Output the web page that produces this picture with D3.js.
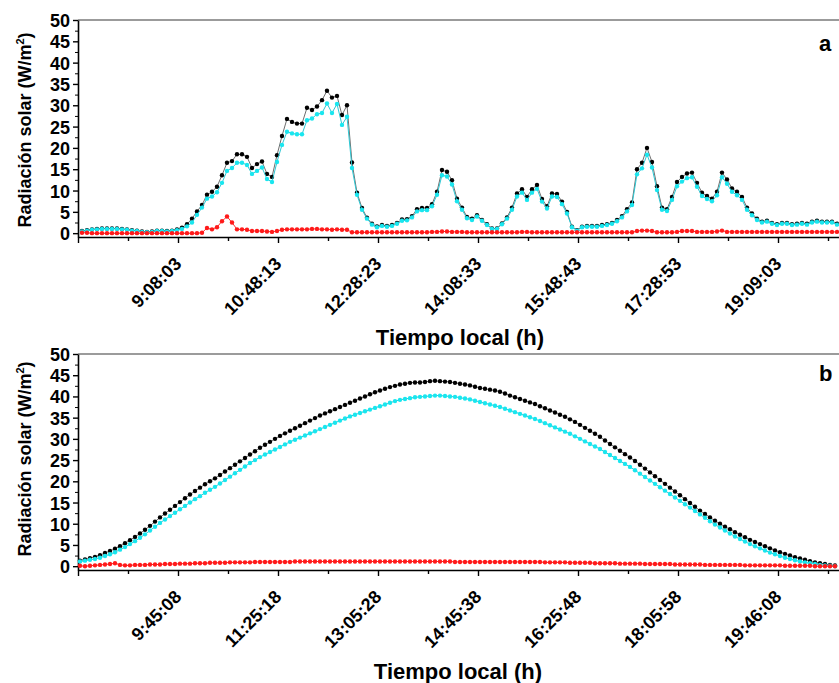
<!DOCTYPE html>
<html>
<head>
<meta charset="utf-8">
<script src="https://cdn.jsdelivr.net/npm/d3@7"></script>
<style>
  body { margin: 0; background: #fff; }
  svg text { font-family: "Liberation Sans", Arial, sans-serif; font-weight: bold; fill: #000; }
</style>
</head>
<body>
<svg id="chart" width="839" height="683"></svg>
<script>
// tick labels (local time)
const ticksA = ["9:08:03", "10:48:13", "12:28:23", "14:08:33", "15:48:43", "17:28:53", "19:09:03"];
const ticksB = ["9:45:08", "11:25:18", "13:05:28", "14:45:38", "16:25:48", "18:05:58", "19:46:08"];

// first sample and sampling step
const startA = "7:31:53";
const startB = "8:06:58";
const stepSeconds = 300.5;

// panel a (black, cyan, red)
const globalA = [0.5,0.7,0.9,1.0,1.1,1.1,1.1,1.1,1.0,0.9,0.7,0.6,0.4,0.3,0.4,0.6,0.6,0.5,0.6,0.9,1.3,2.1,3.4,
  5.1,6.6,9.0,9.7,10.9,13.6,16.5,16.9,18.5,18.5,17.9,15.3,16.2,16.8,13.9,13.2,18.3,22.8,26.8,26.1,25.7,25.7,29.4,28.9,29.7,31.2,33.4,31.8,32.2,27.7,30.0,16.6,9.5,5.9,3.6,2.2,
  1.6,1.9,1.7,1.9,2.4,3.2,3.3,4.0,5.6,5.9,5.9,6.8,9.7,14.8,14.4,12.4,8.1,6.0,3.8,3.4,4.2,3.1,2.1,1.1,1.1,2.3,3.7,6.0,9.3,10.3,8.5,10.3,11.3,8.0,6.3,9.3,9.2,7.4,5.0,1.5,0.7,
  1.5,1.7,1.7,1.7,1.9,2.1,2.4,3.1,4.0,5.6,7.2,15.0,16.5,20.0,16.7,11.0,6.0,5.6,8.5,12.0,13.2,14.0,14.2,11.8,9.5,8.7,8.1,9.7,14.2,12.6,10.5,9.7,8.5,6.0,4.6,3.4,2.7,2.9,2.4,2.1,2.4,2.4,2.1,2.2,2.4,2.2,2.7,2.9,2.7,2.7,2.7,2.2];
const directA = [0.4,0.6,0.8,0.9,1.0,1.0,1.0,1.0,0.9,0.8,0.6,0.5,0.3,0.2,0.3,0.5,0.5,0.4,0.5,0.7,1.0,1.6,2.5,
  4.3,6.0,8.1,8.6,9.6,11.8,14.6,15.3,16.5,16.5,16.0,13.9,14.6,15.4,12.7,12.0,16.7,20.7,23.8,23.4,23.2,23.2,26.5,26.9,27.9,28.2,30.4,28.2,30.3,25.4,27.3,15.3,9.0,5.5,3.4,2.0,
  1.4,1.7,1.5,1.7,2.2,2.9,3.0,3.7,5.1,5.4,5.4,6.3,9.0,13.6,13.3,11.4,7.5,5.5,3.5,3.1,3.9,2.9,1.9,1.0,1.0,2.1,3.4,5.5,8.6,9.5,7.8,9.5,10.4,7.4,5.8,8.6,8.5,6.8,4.6,1.4,0.6,
  1.4,1.5,1.5,1.5,1.7,1.9,2.2,2.8,3.7,5.1,6.6,13.8,15.2,18.4,15.4,10.1,5.5,5.2,7.8,11.0,12.1,12.9,13.1,10.9,8.7,8.0,7.5,8.9,13.1,11.6,9.7,8.9,7.8,5.5,4.2,3.1,2.5,2.7,2.2,1.9,2.2,2.2,1.9,2.0,2.2,2.0,2.5,2.7,2.5,2.5,2.5,2.0];
const diffuseA = [0.1,0.1,0.0,0.0,0.0,0.0,0.0,0.0,0.0,0.0,0.0,0.0,0.0,0.0,0.0,0.0,0.0,0.0,0.0,0.0,0.0,0.0,0.0,0.0,0.1,
  1.2,0.9,1.4,2.8,3.9,2.5,0.9,0.9,0.8,0.5,0.5,0.5,0.4,0.3,0.5,
  0.8,0.9,0.9,0.9,0.9,0.9,1.0,1.0,0.9,0.9,0.8,0.9,0.8,0.8,0.2,0.2,0.2,0.2,0.2,
  0.2,0.2,0.2,0.2,0.2,0.2,0.2,0.2,0.2,0.2,0.2,0.3,0.3,0.4,0.4,0.3,0.3,0.3,
  0.2,0.2,0.2,0.2,0.2,0.2,0.2,0.2,0.2,0.2,0.2,0.3,0.3,
  0.2,0.2,0.2,0.2,0.2,0.2,0.2,0.2,0.2,0.2,0.2,0.2,0.2,0.2,0.2,0.2,0.2,0.2,0.2,0.2,0.2,
  0.5,0.6,0.6,0.5,0.2,0.2,0.2,0.2,0.3,0.5,0.5,0.5,0.3,0.3,0.3,0.3,0.4,0.6,
  0.3,0.3,0.3,0.3,0.3,0.3,0.3,0.3,0.3,0.3,0.3,0.3,0.3,0.3,0.3,0.3,0.3,0.3,0.3,0.3,0.3,0.3,0.3];

// panel b (black, cyan, red)
const globalB = [1.3,1.6,1.9,2.2,2.6,3.1,3.6,4.1,4.7,5.4,
  6.1,6.9,7.7,8.6,9.5,10.5,11.5,12.4,13.3,14.2,
  15.1,16.0,16.9,17.7,18.5,19.3,20.0,20.7,21.5,22.3,
  23.1,23.9,24.7,25.5,26.3,27.1,27.9,28.6,29.3,30.0,
  30.7,31.3,31.9,32.5,33.1,33.7,34.3,34.9,35.5,36.0,
  36.5,37.0,37.5,38.0,38.5,39.0,39.5,40.0,40.5,41.0,
  41.4,41.8,42.2,42.5,42.8,43.0,43.2,43.3,43.3,43.4,
  43.6,43.7,43.6,43.5,43.4,43.2,43.0,42.8,42.6,42.3,
  42.0,41.8,41.6,41.4,41.1,40.7,40.2,39.8,39.4,39.0,
  38.6,38.2,37.7,37.2,36.7,36.2,35.7,35.2,34.6,34.0,
  33.3,32.6,31.9,31.2,30.5,29.6,28.8,28.0,27.2,26.4,
  25.6,24.8,23.9,23.0,22.1,21.2,20.3,19.4,18.5,17.6,
  16.7,15.8,14.9,14.0,13.1,12.3,11.5,10.7,
  10.0,9.3,8.7,8.0,7.4,6.8,6.2,5.7,5.2,4.7,4.2,3.7,3.3,2.9,2.5,2.1,1.8,1.5,1.2,0.9,0.7,0.5,0.3,0.2];
const directB = [1.1,1.3,1.5,1.7,2.0,2.4,2.8,3.3,3.9,4.5,
  5.2,5.9,6.7,7.5,8.4,9.3,10.2,11.0,11.8,12.6,
  13.4,14.2,15.0,15.8,16.5,17.3,18.0,18.7,19.5,20.3,
  21.1,21.9,22.7,23.5,24.3,25.0,25.7,26.3,26.9,27.5,
  28.1,28.7,29.3,29.8,30.3,30.8,31.3,31.8,32.3,32.8,
  33.3,33.8,34.3,34.8,35.3,35.7,36.1,36.5,36.9,37.3,
  37.7,38.1,38.5,38.9,39.2,39.4,39.6,39.8,39.9,40.0,
  40.1,40.2,40.2,40.1,40.0,39.9,39.7,39.5,39.3,39.0,
  38.7,38.4,38.1,37.8,37.5,37.1,36.7,36.3,35.9,35.5,
  35.1,34.7,34.2,33.7,33.2,32.7,32.2,31.7,31.2,30.6,
  30.0,29.4,28.8,28.2,27.6,26.9,26.2,25.5,24.8,24.1,
  23.4,22.6,21.8,21.0,20.2,19.4,18.6,17.8,17.0,16.2,
  15.4,14.6,13.8,13.0,12.2,11.4,10.6,9.8,9.1,8.4,
  7.7,7.0,6.4,5.8,5.2,4.7,4.2,3.7,3.2,2.8,
  2.4,2.0,1.7,1.4,1.1,0.9,0.7,0.5,0.3,0.2,0.1,0.0];
const diffuseB = [0.1,0.0,0.1,0.2,0.3,0.4,0.5,0.7,0.3,0.2,0.2,
  0.3,0.3,0.3,0.4,0.4,0.4,0.5,0.5,0.5,0.6,
  0.6,0.6,0.7,0.7,0.7,0.8,0.8,0.8,0.8,0.9,0.9,0.9,0.9,0.9,1.0,1.0,1.0,1.0,1.0,1.0,
  1.0,1.0,1.1,1.1,1.1,1.1,1.1,1.1,1.1,1.1,1.1,1.1,1.1,1.1,1.1,1.1,1.1,1.1,1.1,1.1,
  1.1,1.1,1.1,1.1,1.1,1.1,1.1,1.1,1.1,1.1,1.1,1.1,1.1,1.1,1.0,1.0,1.0,1.0,1.0,1.0,
  1.0,1.0,1.0,1.0,1.0,1.0,1.0,1.0,1.0,1.0,
  1.0,1.0,0.9,0.9,0.9,0.9,0.9,0.8,0.8,0.8,0.8,0.8,0.7,0.7,
  0.7,0.7,0.7,0.6,0.6,0.6,0.6,0.6,0.5,0.5,0.5,0.5,0.5,0.5,0.4,0.4,0.4,0.4,0.4,0.4,
  0.3,0.3,0.3,0.3,0.3,0.3,0.3,0.3,0.2,0.2,0.2,0.2,0.2,0.2,0.2,0.2,0.1,0.1,0.1,0.1,0.1,0.1,0.0,0.0,0.0,0.0,0.0];

const yTicks = [0, 5, 10, 15, 20, 25, 30, 35, 40, 45, 50];

const svg = d3.select("#chart");
const plotLeft = 78, plotRight = 845;

function toSec(s) {
  const [h, m, sec] = s.split(":").map(Number);
  return h * 3600 + m * 60 + sec;
}

function drawPanel(cfg) {
  const tickTimes = cfg.ticks.map(toSec);
  const major = tickTimes[1] - tickTimes[0];
  const t0 = tickTimes[0] - major;
  const tEnd = t0 + major * (plotRight - plotLeft) / 100;

  const x = d3.scaleLinear().domain([t0, tEnd]).range([plotLeft, plotRight]);
  const y = d3.scaleLinear().domain([-0.9, 50]).range([cfg.bottom, cfg.top]);

  // top frame line
  svg.append("line")
    .attr("x1", plotLeft).attr("x2", plotRight)
    .attr("y1", cfg.top).attr("y2", cfg.top)
    .attr("stroke", "#7a7a7a").attr("stroke-width", 1.5);

  // y axis
  const minorY = d3.range(2.5, 50, 5);
  svg.append("g")
    .attr("transform", `translate(${plotLeft},0)`)
    .call(d3.axisLeft(y).tickValues(minorY).tickSize(3).tickFormat("").tickSizeOuter(0))
    .call(g => g.select(".domain").remove());
  const ya = svg.append("g")
    .attr("transform", `translate(${plotLeft},0)`)
    .call(d3.axisLeft(y).tickValues(yTicks).tickSize(5).tickPadding(3).tickSizeOuter(0));
  ya.select(".domain").attr("stroke-width", 1.6);
  ya.selectAll("line").attr("stroke-width", 1.4);
  ya.selectAll("text").style("font-size", "18px").attr("dy", "0.36em");

  // x axis
  const allMajor = d3.range(t0, tEnd + 1, major);
  const allMinor = d3.range(t0 + major / 2, tEnd, major);
  svg.append("g")
    .attr("transform", `translate(0,${cfg.bottom})`)
    .call(d3.axisBottom(x).tickValues(allMinor).tickSize(4).tickFormat("").tickSizeOuter(0))
    .call(g => g.select(".domain").remove())
    .selectAll("line").attr("stroke-width", 1.4);
  const xa = svg.append("g")
    .attr("transform", `translate(0,${cfg.bottom})`)
    .call(d3.axisBottom(x).tickValues(allMajor).tickSize(6).tickSizeOuter(0)
      .tickFormat(t => {
        const k = tickTimes.indexOf(t);
        return k >= 0 ? cfg.ticks[k] : "";
      }));
  xa.select(".domain").attr("stroke-width", 1.6);
  xa.selectAll("line").attr("stroke-width", 1.4);
  xa.selectAll("text")
    .style("font-size", "18px")
    .style("text-anchor", "end")
    .attr("x", 0).attr("y", 0).attr("dy", 0)
    .attr("transform", "translate(4,28) rotate(-45)");

  // series
  const series = [
    { values: cfg.global, dot: "#000000", line: "#6e6e6e" },
    { values: cfg.direct, dot: "#19e6ef", line: "#2cc8d4" },
    { values: cfg.diffuse, dot: "#ff1a1a", line: "#ff3030" }
  ];
  const start = toSec(cfg.start);
  series.forEach(s => {
    const pts = s.values.map((v, i) => ({ t: start + i * stepSeconds, v }));
    svg.append("path")
      .datum(pts)
      .attr("fill", "none")
      .attr("stroke", s.line)
      .attr("stroke-width", 1)
      .attr("d", d3.line().x(d => x(d.t)).y(d => y(d.v)));
    svg.append("g")
      .selectAll("circle")
      .data(pts)
      .join("circle")
      .attr("cx", d => x(d.t))
      .attr("cy", d => y(d.v))
      .attr("r", 2.2)
      .attr("fill", s.dot);
  });

  // y title
  const yt = svg.append("text")
    .attr("transform", `translate(31,${cfg.yTitleY}) rotate(-90)`)
    .attr("text-anchor", "middle")
    .style("font-size", "18px");
  yt.append("tspan").text("Radiación solar (W/m");
  yt.append("tspan").attr("dy", -7).style("font-size", "11px").text("2");
  yt.append("tspan").attr("dy", 7).text(")");

  // x title
  svg.append("text")
    .attr("x", cfg.xTitleX).attr("y", cfg.xTitleY)
    .attr("text-anchor", "middle")
    .style("font-size", "22px")
    .text("Tiempo local (h)");

  // panel letter
  svg.append("text")
    .attr("x", 819).attr("y", cfg.letterY)
    .style("font-size", "22px")
    .text(cfg.letter);
}

drawPanel({ ticks: ticksA, start: startA, global: globalA, direct: directA, diffuse: diffuseA,
  top: 20, bottom: 237, yTitleY: 130, xTitleX: 460, xTitleY: 345, letter: "a", letterY: 51 });
drawPanel({ ticks: ticksB, start: startB, global: globalB, direct: directB, diffuse: diffuseB,
  top: 354, bottom: 570, yTitleY: 459, xTitleX: 458, xTitleY: 679, letter: "b", letterY: 381 });
</script>
</body>
</html>
